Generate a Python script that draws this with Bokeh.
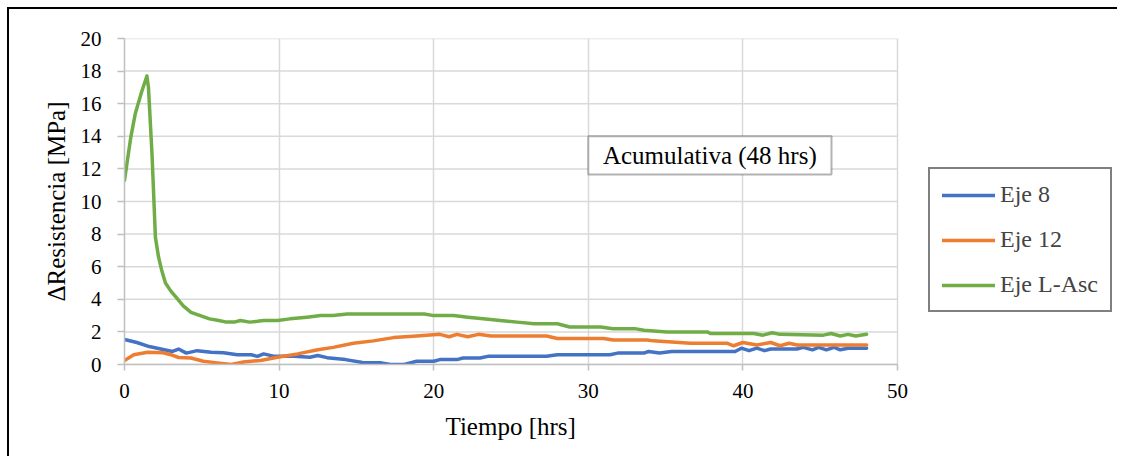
from bokeh.plotting import figure
from bokeh.models import (Legend, LegendItem, FixedTicker, BoxAnnotation, Label, Range1d, Title)
from bokeh.embed import file_html
from bokeh.resources import INLINE

# ---------------- data ----------------
x_ticks = [0, 10, 20, 30, 40, 50]
y_ticks = [0, 2, 4, 6, 8, 10, 12, 14, 16, 18, 20]

series_names = ["Eje 8", "Eje 12", "Eje L-Asc"]

eje8_t = [0, 0.8, 1.6, 2.5, 3.1, 3.5, 4.0, 4.7, 5.6, 6.4, 7.3, 8.2, 8.6, 9.0, 9.7,
          11.0, 12.0, 12.5, 13.1, 14.3, 15.4, 16.6, 17.2, 18.1, 18.9, 20.0, 20.4,
          21.5, 21.9, 23.0, 23.5, 27.3, 28.0, 31.4, 31.9, 33.6, 33.9, 34.6, 35.4,
          39.5, 39.9, 40.4, 40.9, 41.4, 41.8, 43.5, 43.9, 44.5, 44.9, 45.4, 45.9,
          46.3, 46.8, 48.0]
eje8_v = [1.53, 1.35, 1.1, 0.92, 0.8, 0.95, 0.7, 0.85, 0.75, 0.72, 0.6, 0.6, 0.5,
          0.65, 0.5, 0.5, 0.45, 0.55, 0.42, 0.3, 0.12, 0.1, 0.0, 0.0, 0.2, 0.2, 0.3,
          0.3, 0.4, 0.4, 0.5, 0.5, 0.6, 0.6, 0.7, 0.7, 0.8, 0.7, 0.8, 0.8, 1.0, 0.85,
          1.0, 0.85, 0.95, 0.95, 1.05, 0.9, 1.05, 0.9, 1.05, 0.9, 1.0, 1.0]

eje12_t = [0, 0.6, 1.5, 2.5, 3.0, 3.5, 4.3, 5.1, 6.0, 6.9, 7.7, 8.8, 9.9, 11.2, 12.5,
           13.5, 14.8, 16.1, 17.4, 18.9, 20.4, 21.0, 21.5, 22.2, 22.9, 23.7, 27.3,
           28.0, 31.0, 31.6, 33.8, 34.2, 36.6, 39.0, 39.4, 40.0, 40.9, 41.8, 42.4,
           43.0, 43.5, 48.0]
eje12_v = [0.25, 0.6, 0.75, 0.72, 0.6, 0.43, 0.4, 0.2, 0.1, 0.0, 0.15, 0.25, 0.45,
           0.65, 0.9, 1.05, 1.3, 1.45, 1.65, 1.75, 1.85, 1.7, 1.85, 1.7, 1.85, 1.75,
           1.75, 1.6, 1.6, 1.5, 1.5, 1.45, 1.3, 1.3, 1.15, 1.35, 1.2, 1.35, 1.15, 1.3,
           1.2, 1.2]

ejeL_t = [0, 0.4, 0.7, 1.1, 1.45, 1.55, 1.78, 2.0, 2.2, 2.4, 2.65, 3.0, 3.4, 3.8,
          4.3, 4.9, 5.5, 6.1, 6.6, 7.1, 7.5, 8.1, 8.6, 9.0, 9.9, 10.7, 11.8, 12.7,
          13.5, 14.4, 16.0, 18.0, 19.4, 20.0, 21.3, 22.2, 23.2, 24.3, 25.4, 26.5,
          28.0, 28.8, 30.8, 31.6, 33.0, 33.6, 35.1, 37.7, 37.9, 40.7, 41.3, 41.9,
          42.4, 45.2, 45.7, 46.3, 46.8, 47.3, 48.0]
ejeL_v = [11.3, 13.9, 15.4, 16.7, 17.7, 17.0, 12.9, 7.8, 6.6, 5.8, 5.0, 4.5, 4.05,
          3.6, 3.2, 3.0, 2.8, 2.7, 2.6, 2.6, 2.7, 2.6, 2.65, 2.7, 2.7, 2.8, 2.9, 3.0,
          3.0, 3.1, 3.1, 3.1, 3.1, 3.0, 3.0, 2.9, 2.8, 2.7, 2.6, 2.5, 2.5, 2.3, 2.3,
          2.2, 2.2, 2.1, 2.0, 2.0, 1.9, 1.9, 1.8, 1.95, 1.85, 1.8, 1.9, 1.75, 1.85,
          1.75, 1.85]

annotation_text = "Acumulativa (48 hrs)"
x_title = "Tiempo [hrs]"
y_title = "\u0394Resistencia [MPa]"

# ---------------- style ----------------
FONT = "Liberation Serif"
colors = ["#4472C4", "#ED7D31", "#70AD47"]
GRID = "#D9D9D9"
AXIS = "#BFBFBF"

X_MIN, X_MAX = x_ticks[0], x_ticks[-1]
Y_MIN, Y_MAX = y_ticks[0], y_ticks[-1]
# the frame is widened to the right so the (outside) legend is not clipped;
# axis line and grid are bounded to the real 0..50 data span
FRAME_W = 993
DATA_W = 773
x_view_end = X_MAX * FRAME_W / DATA_W

p = figure(width=1117, height=456, output_backend="svg", toolbar_location=None,
           x_range=Range1d(X_MIN, x_view_end), y_range=Range1d(Y_MIN, Y_MAX),
           min_border_left=124, min_border_right=0, min_border_top=38,
           min_border_bottom=92)
p.outline_line_color = None
p.background_fill_color = "white"
p.border_fill_color = None
# outer chart-area border (top and left edges, as in the original)
p.styles = {
    "background-color": "white",
    "background-image": "linear-gradient(#000, #000), linear-gradient(#000, #000)",
    "background-size": "100% 2px, 2px 100%",
    "background-position": "7px 7px, 7px 7px",
    "background-repeat": "no-repeat",
}

p.xaxis.ticker = FixedTicker(ticks=x_ticks)
p.yaxis.ticker = FixedTicker(ticks=y_ticks)
p.xaxis.bounds = (X_MIN, X_MAX)
for ax in (p.xaxis[0], p.yaxis[0]):
    ax.axis_line_color = AXIS
    ax.axis_line_width = 1.5
    ax.major_tick_line_color = AXIS
    ax.major_tick_line_width = 1.5
    ax.major_tick_in = 0
    ax.minor_tick_line_color = None
    ax.major_label_text_font = FONT
    ax.major_label_text_font_size = "21px"
    ax.major_label_text_color = "black"
    ax.axis_label_text_font = FONT
    ax.axis_label_text_font_size = "25px"
    ax.axis_label_text_font_style = "normal"
    ax.axis_label_text_color = "black"
p.xaxis.major_tick_out = 6
p.yaxis.major_tick_out = 7
p.xaxis.major_label_standoff = 13
p.yaxis.major_label_standoff = 16
p.yaxis.axis_label = y_title
p.yaxis.axis_label_standoff = 8

# x-axis title centred under the 0..50 data span (the frame is wider)
p.add_layout(Title(text=x_title, align="left", offset=321, text_font=FONT,
                   text_font_size="25px", text_font_style="normal",
                   text_color="black", standoff=20), "below")

p.xgrid.grid_line_color = GRID
p.xgrid.grid_line_width = 1.5
p.ygrid.visible = False
n_y = len(y_ticks)
p.segment(x0=[X_MIN] * n_y, y0=y_ticks, x1=[X_MAX] * n_y, y1=y_ticks,
          line_color=GRID, line_width=1.5, level="underlay")

renderers = []
for t, v, c in zip([eje8_t, eje12_t, ejeL_t], [eje8_v, eje12_v, ejeL_v], colors):
    r = p.line(t, v, line_color=c, line_width=3.5, line_join="round", line_cap="round")
    renderers.append(r)

# annotation text box
box = BoxAnnotation(left=30, right=45.73, bottom=11.66, top=14.0,
                    fill_color="white", fill_alpha=1.0,
                    line_color="black", line_width=2)
p.add_layout(box)
p.add_layout(Label(x=37.86, y=12.83, text=annotation_text, text_align="center",
                   text_baseline="middle", text_font=FONT, text_font_size="25px",
                   text_color="black"))

legend = Legend(items=[LegendItem(label=n, renderers=[r]) for n, r in zip(series_names, renderers)],
                location=(804, 52), border_line_color="black", border_line_width=2,
                padding=12, spacing=18, glyph_width=53, glyph_height=20,
                label_height=20, label_standoff=5, label_width=92,
                label_text_font=FONT, label_text_font_size="24px",
                background_fill_color="white", background_fill_alpha=1.0, margin=0)
p.add_layout(legend)

open("out.html", "w").write(file_html(p, INLINE))
